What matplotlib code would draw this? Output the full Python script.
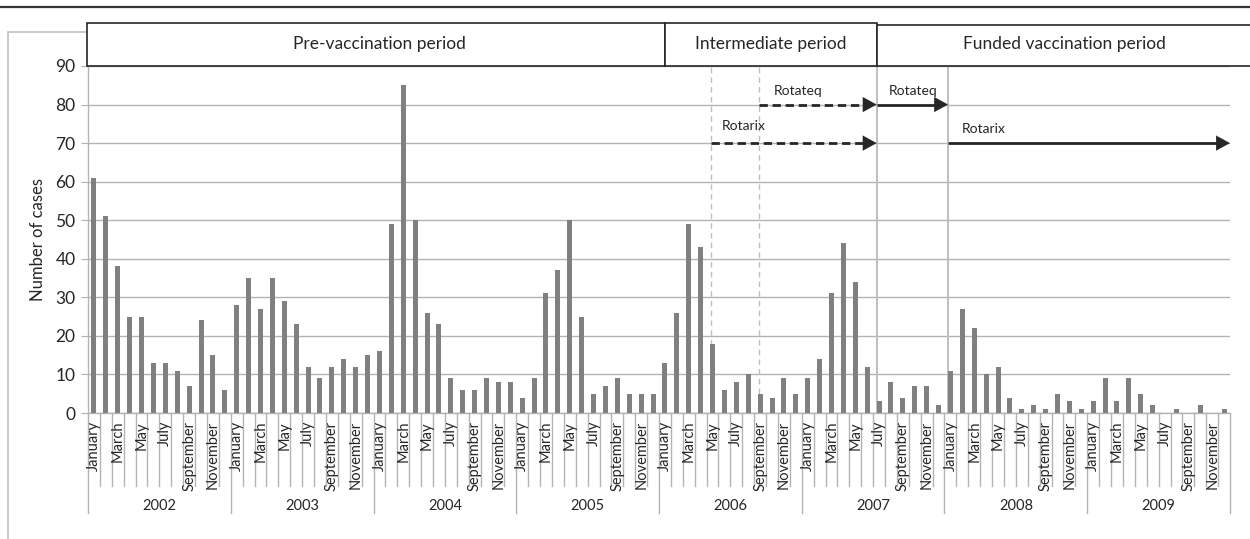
import numpy as np
import matplotlib
matplotlib.use("Agg")
import matplotlib.pyplot as plt
from matplotlib.patches import Rectangle
from matplotlib.lines import Line2D
from matplotlib.transforms import blended_transform_factory

plt.rcParams['font.family'] = ['Lato', 'DejaVu Sans']

# monthly rotavirus cases, Jan 2002 - Dec 2009
years = ['2002', '2003', '2004', '2005', '2006', '2007', '2008', '2009']
months = ['January', 'February', 'March', 'April', 'May', 'June', 'July',
          'August', 'September', 'October', 'November', 'December']
cases_2002 = [61, 51, 38, 25, 25, 13, 13, 11, 7, 24, 15, 6]
cases_2003 = [28, 35, 27, 35, 29, 23, 12, 9, 12, 14, 12, 15]
cases_2004 = [16, 49, 85, 50, 26, 23, 9, 6, 6, 9, 8, 8]
cases_2005 = [4, 9, 31, 37, 50, 25, 5, 7, 9, 5, 5, 5]
cases_2006 = [13, 26, 49, 43, 18, 6, 8, 10, 5, 4, 9, 5]
cases_2007 = [9, 14, 31, 44, 34, 12, 3, 8, 4, 7, 7, 2]
cases_2008 = [11, 27, 22, 10, 12, 4, 1, 2, 1, 5, 3, 1]
cases_2009 = [3, 9, 3, 9, 5, 2, 0, 1, 0, 2, 0, 1]

cases = (cases_2002 + cases_2003 + cases_2004 + cases_2005 +
         cases_2006 + cases_2007 + cases_2008 + cases_2009)

periods = ['Pre-vaccination period', 'Intermediate period', 'Funded vaccination period']
period_edges = [-0.55, 48.0, 65.8, 97.5]
period_centres = [24.0, 56.9, 81.6]

W, H = 1250, 539
fig = plt.figure(figsize=(W / 100, H / 100), dpi=100)

# axes placed in pixel terms
ax_l, ax_r, ax_t, ax_b = 88, 1230, 66, 413
ax = fig.add_axes([ax_l / W, 1 - ax_b / H, (ax_r - ax_l) / W, (ax_b - ax_t) / H])
ax_h = ax_b - ax_t

def fy(p):
    # pixel row -> figure fraction
    return 1 - p / H

def ay(p):
    # pixel row -> axes fraction
    return (ax_b - p) / ax_h

txt = '#262626'

# chart area frame (light gray) and top rule
fig.add_artist(Rectangle((8 / W, fy(560)), 1.2, (560 - 32) / H, transform=fig.transFigure,
                         fill=False, edgecolor='#bfbfbf', lw=1.2, zorder=0))
fig.add_artist(Line2D([0, 1], [fy(6.5), fy(6.5)], transform=fig.transFigure,
                      color='#333333', lw=1.6))

x = np.arange(len(cases))
ax.bar(x, cases, width=0.42, color='#808080', zorder=3)

ax.set_xlim(-0.5, 95.5)
ax.set_ylim(0, 90)
ax.set_yticks(range(0, 91, 10))
ax.yaxis.grid(True, color='#b3b3b3', lw=1.0)
ax.set_axisbelow(True)
ax.set_xticks([])
for s in ['top', 'right']:
    ax.spines[s].set_visible(False)
for s in ['left', 'bottom']:
    ax.spines[s].set_color('#b3b3b3')
    ax.spines[s].set_linewidth(1.0)
ax.tick_params(axis='y', length=5, color='#b3b3b3', pad=4, labelsize=12.5, labelcolor=txt)
ax.set_ylabel('Number of cases', fontsize=12, color=txt, labelpad=7)

xt = ax.get_xaxis_transform()

# month / year category axis
for i in range(len(cases) + 1):
    b = i - 0.5
    low = ay(513) if i % 12 == 0 else ay(486)
    ax.plot([b, b], [0, low], transform=xt, color='#b3b3b3', lw=1.0, clip_on=False)
for i in range(len(cases)):
    m = months[i % 12]
    if i % 2 == 0:
        ax.text(i, ay(421), m, transform=xt, rotation=90, ha='center', va='top',
                fontsize=10.5, color=txt)
for k, yr in enumerate(years):
    ax.text(12 * k + 5.5, ay(506), yr, transform=xt, ha='center', va='center',
            fontsize=10.5, color=txt)

# period boxes along the top
bt = blended_transform_factory(ax.transData, fig.transFigure)
box_tops = [23, 23, 25]
for name, x0, x1, top, xc in zip(periods, period_edges[:-1], period_edges[1:],
                                 box_tops, period_centres):
    r = Rectangle((x0, fy(66)), x1 - x0, (66 - top) / H, transform=bt, facecolor='white',
                  edgecolor=txt, lw=1.2, clip_on=False, zorder=5)
    fig.add_artist(r)
    fig.text(xc, fy(44), name, transform=bt, ha='center', va='center', fontsize=12.5,
             color=txt, zorder=7)

# vaccine introduction markers
for xv in [51.9, 55.9]:
    ax.axvline(xv, color='#bfbfbf', lw=1.0, ls=(0, (4, 3)), zorder=2)
for xv in [65.8, 71.8]:
    ax.axvline(xv, color='#bfbfbf', lw=1.4, zorder=2)

def arrow(x0, x1, yv, dashed):
    ls = (0, (3.0, 1.7)) if dashed else '-'
    ax.plot([x0, x1 - 0.6], [yv, yv], color=txt, lw=2.0, ls=ls, zorder=4,
            solid_capstyle='butt', dash_capstyle='butt')
    ax.annotate('', xy=(x1, yv), xytext=(x1 - 0.8, yv),
                arrowprops=dict(arrowstyle='-|>,head_length=0.55,head_width=0.3',
                                color=txt, lw=0.1, mutation_scale=18,
                                shrinkA=0, shrinkB=0), zorder=4)

arrow(55.9, 65.8, 80, True)
arrow(65.8, 71.8, 80, False)
arrow(51.9, 65.8, 70, True)
arrow(71.8, 95.5, 70, False)

lab = dict(fontsize=10, color=txt, ha='center', va='center', zorder=6)
ax.text(59.2, 83.4, 'Rotateq', **lab)
ax.text(68.9, 83.6, 'Rotateq', **lab)
ax.text(54.6, 74.4, 'Rotarix', **lab)
ax.text(74.8, 73.6, 'Rotarix', **lab)

fig.savefig('out.png', dpi=100)
